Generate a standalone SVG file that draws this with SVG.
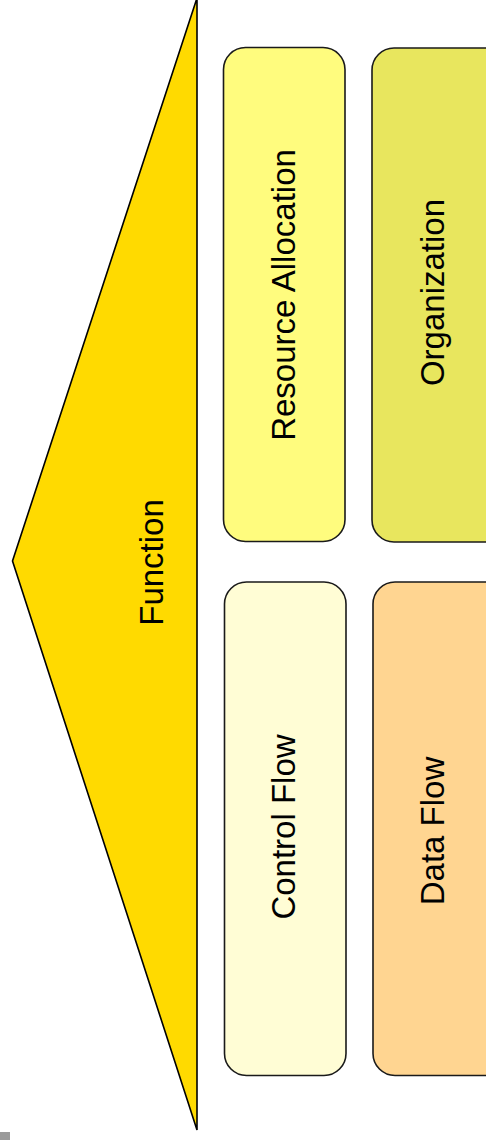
<svg xmlns="http://www.w3.org/2000/svg" width="486" height="1140" viewBox="0 0 486 1140">
<style>
.box{stroke:#1a1a1a;stroke-width:1.6}
.lbl{font-family:"Liberation Sans",Arial,sans-serif;font-size:33px;fill:#000;text-anchor:middle}
</style>
<rect width="486" height="1140" fill="#fff"/>
<g id="function">
<polygon points="197,-2 12.5,561 197,1130" fill="#FFDA00" stroke="#000" stroke-width="1.6" stroke-linejoin="miter"/>
<text class="lbl" transform="translate(163,562.5) rotate(-90)">Function</text>
</g>
<g id="resource-allocation">
<rect class="box" x="223.5" y="47.5" width="121.5" height="494" rx="22" fill="#FFFC7E"/>
<text class="lbl" transform="translate(295,295) rotate(-90)">Resource Allocation</text>
</g>
<g id="organization">
<rect class="box" x="372" y="48" width="136" height="494" rx="22" fill="#E8E65E"/>
<text class="lbl" transform="translate(444,292.5) rotate(-90)">Organization</text>
</g>
<g id="control-flow">
<rect class="box" x="224.5" y="582" width="121.5" height="493.5" rx="22" fill="#FFFDD5"/>
<text class="lbl" transform="translate(295,827) rotate(-90)">Control Flow</text>
</g>
<g id="data-flow">
<rect class="box" x="373" y="582" width="135" height="493.5" rx="22" fill="#FFD591"/>
<text class="lbl" transform="translate(444,831) rotate(-90)">Data Flow</text>
</g>
<g id="connectors"></g>
<rect x="0" y="1132" width="10" height="8" fill="#9A9A9A"/>
</svg>
